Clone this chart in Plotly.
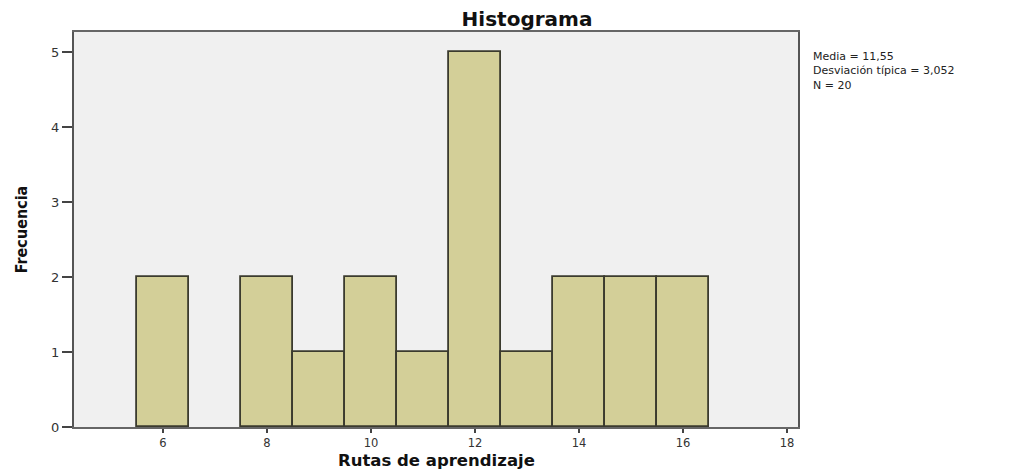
import plotly.graph_objects as go

categories = [6, 8, 9, 10, 11, 12, 13, 14, 15, 16]
frequencies = [2, 2, 1, 2, 1, 5, 1, 2, 2, 2]
x_ticks = [6, 8, 10, 12, 14, 16, 18]
y_ticks = [0, 1, 2, 3, 4, 5]
stats_text = ["Media = 11,55", "Desviación típica = 3,052", "N = 20"]
x_title = "Rutas de aprendizaje"
y_title = "Frecuencia"

W, H = 1026, 470
L, R, T, B = 74, 798, 32, 427

fig = go.Figure()
fig.add_trace(go.Bar(
    x=categories, y=frequencies, width=1,
    marker=dict(color="#d3cf98", line=dict(color="#3b3b2e", width=1.8)),
    showlegend=False, hoverinfo="skip",
))

fig.update_layout(
    width=W, height=H,
    margin=dict(l=L, r=W - R, t=T, b=H - B, autoexpand=False),
    paper_bgcolor="white", plot_bgcolor="#f0f0f0",
    font=dict(family="DejaVu Sans, Liberation Sans, sans-serif", size=12, color="#333"),
    title=dict(text="<b>Histograma</b>", x=527 / W, xanchor="center",
               y=1 - 19 / H, yanchor="middle",
               font=dict(size=20, color="#111")),
    xaxis=dict(range=[4.29, 18.21], tickvals=x_ticks, ticks="outside", ticklen=4,
               tickwidth=1.8, tickcolor="#444", showgrid=False, zeroline=False,
               showline=True, linecolor="#666", linewidth=2, mirror=True,
               automargin=False,
               tickfont=dict(size=11.5, color="#333")),
    yaxis=dict(range=[0, 5.27], tickvals=y_ticks, ticks="outside", ticklen=10,
               tickwidth=1.8, tickcolor="#444", showgrid=False, zeroline=False,
               showline=True, linecolor="#555", linewidth=2, mirror=True,
               automargin=False,
               tickfont=dict(size=13, color="#333"),
               title=dict(text="<b>" + y_title + "</b>", standoff=20,
                          font=dict(size=16, color="#111",
                                    family="Liberation Sans Narrow, DejaVu Sans Condensed, sans-serif"))),
    bargap=0,
)

# x-axis title placed precisely below the tick labels
fig.add_annotation(
    text="<b>" + x_title + "</b>", xref="paper", yref="paper",
    x=0.5, y=-(460 - B) / (B - T), xanchor="center", yanchor="middle",
    showarrow=False, font=dict(size=16.5, color="#111"),
)

fig.add_annotation(
    text="<br>".join(stats_text), xref="paper", yref="paper",
    x=(811 - L) / (R - L), y=(B - 48) / (B - T), xanchor="left", yanchor="top",
    align="left", showarrow=False,
    font=dict(size=11, color="#222"),
)

fig.write_html("out.html", config={"displayModeBar": False},
               post_script="document.body.style.margin='0';")
